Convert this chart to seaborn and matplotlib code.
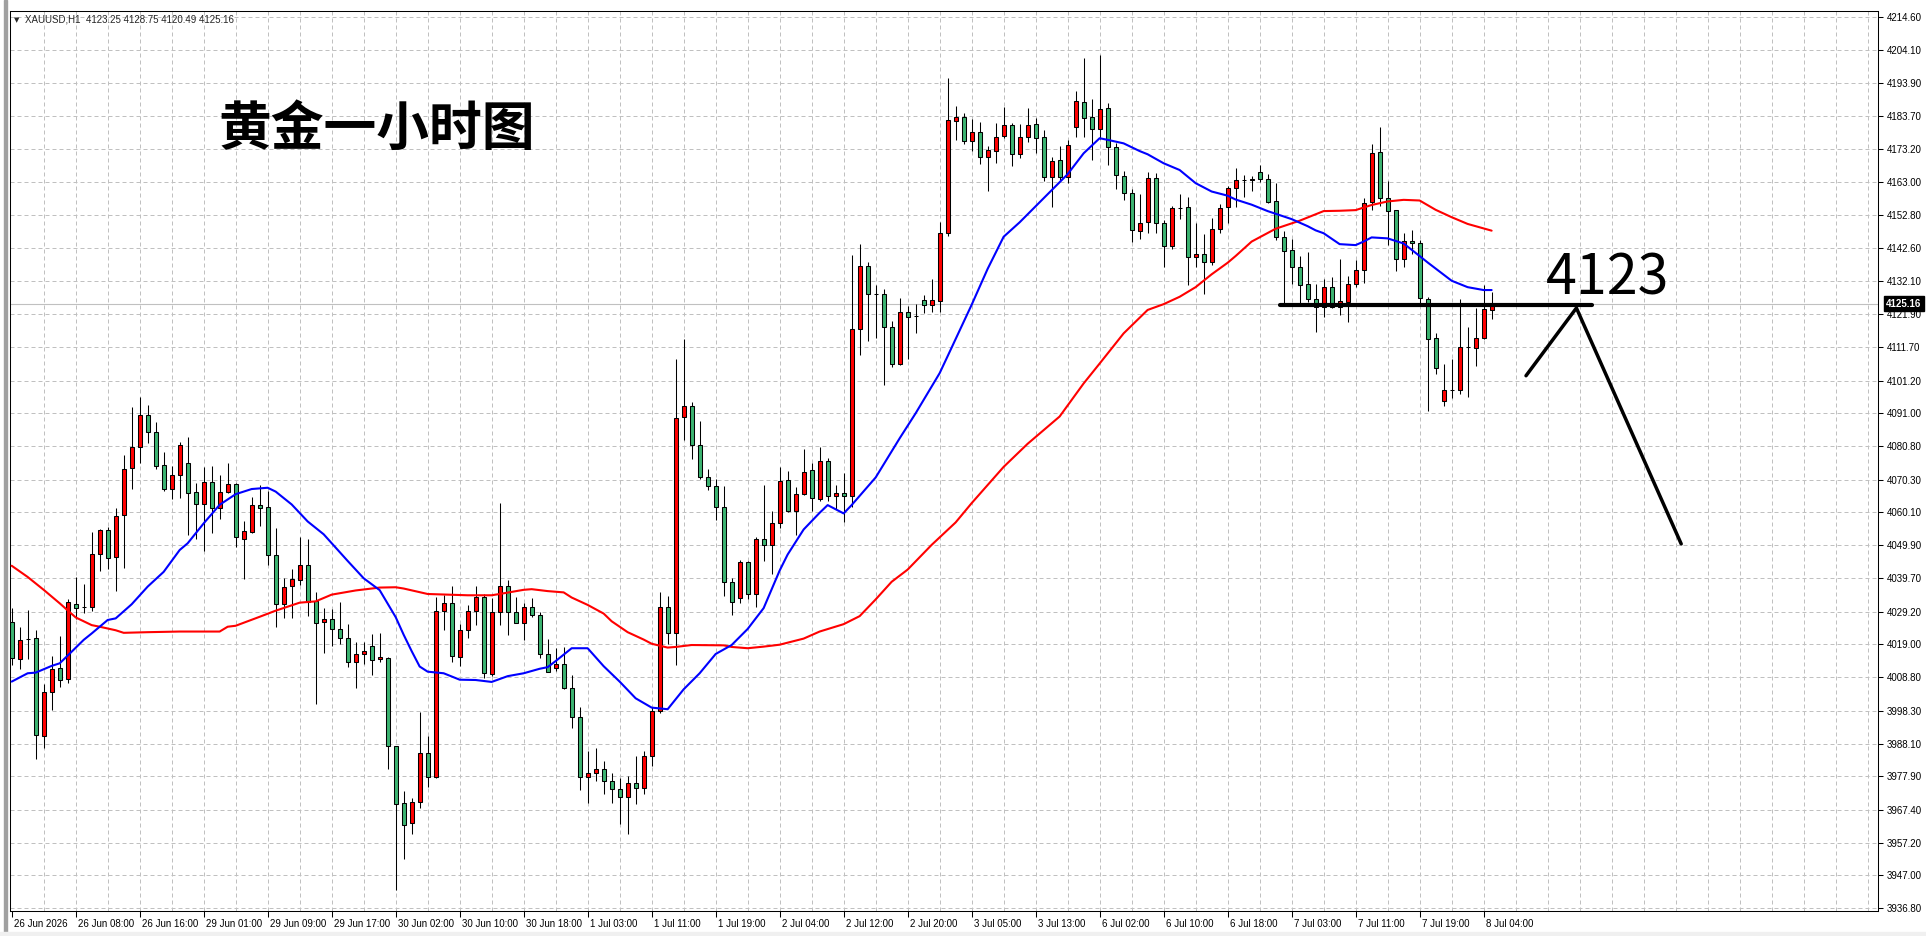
import numpy as np
import matplotlib
matplotlib.use("Agg")
import matplotlib.pyplot as plt
import matplotlib.transforms as mtransforms
from matplotlib.patches import Rectangle
import seaborn as sns

# ---------------- data ----------------
time_labels = ["26 Jun 2026", "26 Jun 08:00", "26 Jun 16:00", "29 Jun 01:00", "29 Jun 09:00",
               "29 Jun 17:00", "30 Jun 02:00", "30 Jun 10:00", "30 Jun 18:00", "1 Jul 03:00",
               "1 Jul 11:00", "1 Jul 19:00", "2 Jul 04:00", "2 Jul 12:00", "2 Jul 20:00",
               "3 Jul 05:00", "3 Jul 13:00", "6 Jul 02:00", "6 Jul 10:00", "6 Jul 18:00",
               "7 Jul 03:00", "7 Jul 11:00", "7 Jul 19:00", "8 Jul 04:00"]
time_label_idx = list(range(0, 185, 8))

open_ = [
    4026.1, 4014.3, 4020.8, 4020.9, 3990.3, 4004.3, 4011.5, 4008.1, 4031.5, 4030.7,
    4030.8, 4047.2, 4054.5, 4046.1, 4059.2, 4073.9, 4080.4, 4090.4, 4085.1, 4074.8,
    4067.3, 4071.7, 4075.4, 4066.4, 4062.6, 4069.5, 4061.4, 4066.4, 4068.9, 4051.9,
    4054.1, 4062.3, 4061.7, 4046.7, 4031.5, 4037.1, 4039.0, 4043.6, 4032.4, 4025.9,
    4026.8, 4023.7, 4020.9, 4013.4, 4015.9, 4018.4, 4014.3, 4014.7, 3987.2, 3969.6,
    3963.2, 3969.8, 3985.2, 3977.7, 4029.4, 4032.0, 4015.1, 4023.6, 4029.4, 4033.8,
    4009.8, 4029.2, 4037.3, 4029.2, 4025.8, 4030.7, 4028.2, 4016.1, 4011.7, 4013.0,
    4005.5, 3996.5, 3977.7, 3979.0, 3980.2, 3976.4, 3973.9, 3971.4, 3975.9, 3974.3,
    3984.2, 3998.3, 4030.5, 4022.7, 4089.8, 4093.2, 4081.0, 4071.1, 4068.2, 4061.9,
    4038.4, 4033.6, 4044.8, 4034.7, 4051.7, 4050.1, 4056.9, 4070.1, 4060.7, 4066.0,
    4073.2, 4064.2, 4076.0, 4065.1, 4066.3, 4065.1, 4117.2, 4136.8, 4128.3, 4128.3,
    4118.0, 4106.5, 4122.5, 4121.4, 4126.2, 4124.6, 4125.9, 4147.1, 4182.0, 4183.2,
    4175.7, 4178.5, 4171.0, 4172.6, 4177.3, 4180.7, 4171.7, 4177.0, 4181.0, 4177.0,
    4164.5, 4169.8, 4164.5, 4180.1, 4187.9, 4183.2, 4179.5, 4186.0, 4173.9, 4164.8,
    4159.5, 4147.7, 4150.5, 4164.2, 4150.2, 4143.0, 4155.1, 4155.2, 4139.6, 4140.5,
    4138.0, 4148.3, 4155.2, 4161.1, 4163.6, 4163.7, 4166.1, 4163.9, 4157.0, 4145.9,
    4141.8, 4136.5, 4131.2, 4126.5, 4124.0, 4130.2, 4124.0, 4125.8, 4131.2, 4135.8,
    4156.7, 4172.3, 4158.2, 4154.2, 4139.0, 4144.8, 4144.2, 4126.7, 4114.4, 4094.7,
    4098.2, 4098.4, 4111.6, 4111.2, 4114.4, 4123.25]

high = [
    4030.2, 4024.3, 4029.7, 4023.5, 4006.7, 4015.4, 4021.6, 4033.0, 4039.9, 4037.8,
    4053.9, 4054.9, 4055.7, 4061.5, 4078.0, 4093.1, 4096.0, 4093.6, 4088.2, 4078.8,
    4074.6, 4082.2, 4083.5, 4069.2, 4074.2, 4074.5, 4071.8, 4075.5, 4069.2, 4057.4,
    4064.8, 4068.6, 4066.8, 4055.3, 4039.6, 4042.5, 4052.5, 4051.8, 4035.2, 4030.2,
    4029.9, 4032.1, 4025.2, 4019.6, 4019.6, 4022.1, 4022.4, 4015.0, 3987.3, 3973.3,
    3971.1, 3997.9, 3990.6, 4033.8, 4034.5, 4037.3, 4025.5, 4031.2, 4037.3, 4034.7,
    4033.6, 4063.2, 4039.2, 4033.8, 4032.0, 4033.6, 4029.2, 4020.8, 4017.8, 4018.2,
    4009.5, 3999.6, 3985.9, 3986.8, 3982.8, 3978.8, 3977.3, 3978.1, 3984.3, 3985.7,
    3999.6, 4035.2, 4034.1, 4108.0, 4114.0, 4094.4, 4088.5, 4073.5, 4070.6, 4068.2,
    4039.8, 4045.3, 4045.1, 4052.4, 4068.6, 4060.7, 4074.2, 4073.0, 4067.9, 4079.9,
    4075.5, 4080.5, 4077.1, 4068.6, 4072.3, 4140.3, 4143.7, 4138.1, 4131.0, 4129.8,
    4119.7, 4126.9, 4124.4, 4125.1, 4127.8, 4132.7, 4150.7, 4195.4, 4186.6, 4184.6,
    4182.7, 4181.8, 4174.3, 4181.3, 4186.3, 4181.3, 4181.1, 4186.0, 4182.9, 4179.3,
    4171.0, 4174.2, 4176.2, 4191.3, 4201.6, 4188.8, 4202.7, 4187.7, 4175.2, 4166.5,
    4160.8, 4159.3, 4166.1, 4165.8, 4151.1, 4155.5, 4159.2, 4158.4, 4150.2, 4146.8,
    4151.7, 4156.1, 4161.7, 4167.4, 4165.1, 4164.9, 4168.3, 4165.6, 4162.6, 4147.7,
    4145.2, 4140.0, 4141.2, 4131.3, 4132.8, 4133.4, 4139.0, 4133.8, 4138.7, 4158.0,
    4174.9, 4180.1, 4163.4, 4154.3, 4147.3, 4148.1, 4145.0, 4127.3, 4115.9, 4106.4,
    4108.0, 4126.5, 4117.8, 4123.7, 4130.9, 4128.75]

low = [
    4012.6, 4011.4, 4014.3, 3983.2, 3986.6, 3998.6, 4005.6, 4006.9, 4026.8, 4028.7,
    4029.5, 4042.0, 4042.5, 4035.7, 4042.9, 4067.5, 4075.4, 4081.8, 4073.5, 4066.9,
    4064.4, 4064.5, 4053.1, 4051.7, 4048.2, 4053.8, 4058.2, 4066.1, 4049.4, 4039.3,
    4053.6, 4056.0, 4043.6, 4024.5, 4027.3, 4027.3, 4037.6, 4027.9, 4000.3, 4016.4,
    4018.6, 4019.2, 4011.8, 4005.3, 4012.8, 4009.6, 4013.4, 3980.1, 3942.5, 3952.2,
    3959.9, 3968.1, 3974.6, 3977.5, 4023.6, 4013.6, 4012.2, 4021.1, 4025.0, 4008.6,
    4009.1, 4025.0, 4021.8, 4025.8, 4020.5, 4027.6, 4014.7, 4010.3, 4010.8, 4005.2,
    3992.9, 3973.5, 3969.7, 3976.4, 3972.4, 3969.5, 3962.9, 3959.8, 3969.2, 3972.5,
    3981.0, 3997.6, 4019.0, 4012.6, 4082.8, 4076.7, 4070.4, 4067.1, 4057.8, 4034.1,
    4028.3, 4032.0, 4033.2, 4030.5, 4045.0, 4040.9, 4055.4, 4060.3, 4053.1, 4065.6,
    4060.5, 4063.6, 4063.6, 4061.2, 4057.2, 4061.7, 4109.3, 4113.6, 4114.4, 4099.9,
    4105.5, 4105.9, 4107.9, 4116.1, 4122.1, 4122.6, 4122.6, 4146.3, 4176.2, 4175.0,
    4172.7, 4168.8, 4160.4, 4169.1, 4176.7, 4168.2, 4170.4, 4175.4, 4172.0, 4163.5,
    4155.2, 4163.7, 4162.7, 4177.2, 4177.0, 4169.9, 4176.4, 4168.3, 4160.8, 4157.3,
    4144.5, 4145.4, 4147.1, 4147.1, 4136.5, 4142.1, 4151.4, 4131.1, 4136.7, 4128.3,
    4137.3, 4147.1, 4150.2, 4155.2, 4158.5, 4160.4, 4163.1, 4156.6, 4145.1, 4125.1,
    4131.2, 4125.3, 4125.8, 4116.4, 4121.1, 4123.7, 4121.6, 4119.5, 4130.2, 4131.7,
    4154.3, 4155.6, 4143.5, 4135.4, 4136.7, 4140.6, 4125.1, 4091.8, 4103.2, 4093.4,
    4095.7, 4096.9, 4096.2, 4105.8, 4114.0, 4120.49]

close = [
    4014.7, 4020.3, 4020.8, 3990.7, 4004.1, 4011.2, 4007.8, 4032.1, 4030.4, 4030.7,
    4047.1, 4054.5, 4045.8, 4058.9, 4073.5, 4080.4, 4090.4, 4085.1, 4074.5, 4067.3,
    4071.7, 4081.0, 4066.3, 4062.6, 4069.5, 4061.4, 4066.4, 4068.9, 4052.4, 4054.2,
    4062.3, 4061.4, 4046.7, 4031.5, 4036.8, 4039.3, 4043.6, 4032.1, 4025.6, 4026.8,
    4023.7, 4020.9, 4013.4, 4015.9, 4016.8, 4014.0, 4015.0, 3987.2, 3969.4, 3962.8,
    3969.8, 3985.2, 3977.7, 4029.4, 4032.0, 4015.5, 4023.6, 4029.4, 4033.8, 4010.0,
    4029.2, 4037.3, 4029.2, 4025.8, 4030.7, 4028.2, 4016.1, 4010.3, 4013.0, 4005.5,
    3996.5, 3977.7, 3979.0, 3980.2, 3976.4, 3973.9, 3971.6, 3975.9, 3974.3, 3984.2,
    3998.3, 4030.5, 4022.7, 4089.5, 4093.2, 4081.0, 4071.1, 4068.2, 4061.9, 4038.4,
    4032.2, 4044.8, 4034.7, 4051.7, 4050.1, 4056.9, 4069.8, 4060.6, 4066.0, 4072.8,
    4064.5, 4076.0, 4065.1, 4066.1, 4065.3, 4117.2, 4136.8, 4128.3, 4128.3, 4118.0,
    4106.5, 4122.5, 4121.1, 4121.4, 4124.6, 4126.2, 4147.1, 4182.3, 4183.2, 4175.7,
    4178.5, 4171.0, 4173.0, 4177.0, 4180.7, 4171.7, 4177.0, 4180.7, 4176.7, 4164.5,
    4169.5, 4164.5, 4174.5, 4188.2, 4182.9, 4179.7, 4185.7, 4173.9, 4165.1, 4159.5,
    4148.0, 4150.2, 4164.2, 4150.2, 4143.0, 4154.9, 4155.1, 4139.6, 4140.5, 4138.0,
    4148.3, 4154.9, 4161.1, 4163.6, 4163.6, 4164.1, 4164.1, 4156.9, 4145.8, 4141.7,
    4136.5, 4130.9, 4126.5, 4124.0, 4130.2, 4124.0, 4125.9, 4131.2, 4135.5, 4156.6,
    4172.0, 4158.2, 4153.9, 4139.0, 4144.8, 4144.2, 4126.8, 4114.0, 4105.0, 4098.2,
    4098.2, 4111.6, 4111.6, 4114.4, 4123.4, 4125.16]

ma_fast_idx = [0, 2, 3, 5, 6, 7, 9, 10, 12, 13, 15, 17, 19, 21, 22, 24, 26, 28, 30, 32,
               33, 35, 37, 39, 42, 44, 46, 48, 49, 50, 51, 52, 54, 56, 58, 60, 62, 64, 66, 67,
               68, 70, 72, 74, 76, 78, 80, 82, 84, 86, 88, 90, 92, 94, 96, 97, 99, 101, 102, 104,
               105, 108, 111, 113, 116, 117, 120, 122, 124, 126, 129, 132, 134, 136, 137, 139,
               141, 142, 144, 146, 148, 150, 152, 153, 155, 157, 160, 162, 163, 164, 166, 168,
               169, 170, 172, 174, 176, 177, 180, 182, 184, 185]
ma_fast_val = [4007.4, 4010.0, 4010.2, 4012.3, 4013.1, 4015.5, 4020.4, 4022.4, 4026.6, 4027.1,
               4031.5, 4037.0, 4041.6, 4048.4, 4050.5, 4056.7, 4062.5, 4065.8, 4067.4, 4067.8,
               4066.6, 4062.6, 4057.3, 4053.3, 4045.0, 4039.6, 4035.9, 4027.5, 4022.0, 4016.9,
               4012.1, 4010.5, 4010.0, 4008.0, 4007.9, 4007.3, 4009.1, 4010.0, 4011.4, 4011.9,
               4013.8, 4017.8, 4017.8, 4012.2, 4007.4, 4002.2, 3999.3, 3998.8, 4005.0, 4010.0,
               4016.0, 4018.8, 4023.8, 4030.3, 4042.0, 4047.0, 4054.8, 4060.0, 4062.4, 4059.8,
               4062.4, 4071.0, 4083.2, 4091.0, 4103.5, 4108.8, 4124.8, 4136.0, 4146.0, 4150.5,
               4158.0, 4165.5, 4172.0, 4176.7, 4176.2, 4175.1, 4172.7, 4171.7, 4168.9, 4166.8,
               4162.7, 4160.1, 4158.8, 4157.6, 4156.0, 4154.0, 4151.5, 4149.3, 4148.0, 4147.1,
               4143.7, 4143.4, 4144.5, 4145.8, 4145.5, 4143.9, 4140.0, 4138.0, 4132.3, 4130.3,
               4129.4, 4129.4]

ma_slow_idx = [0, 2, 4, 6, 8, 10, 11, 13, 14, 17, 21, 26, 27, 28, 31, 33, 36, 38, 40, 43,
               46, 48, 49, 52, 57, 60, 61, 64, 65, 67, 69, 70, 72, 74, 75, 77, 79, 80, 82, 83,
               85, 89, 90, 92, 94, 96, 99, 101, 104, 106, 108, 110, 112, 115, 118, 120, 124, 127,
               131, 134, 136, 139, 142, 144, 146, 148, 150, 152, 153, 155, 158, 161, 164, 166,
               168, 170, 172, 174, 176, 178, 180, 182, 185]
ma_slow_val = [4043.5, 4040.0, 4036.0, 4031.8, 4027.4, 4025.0, 4024.5, 4023.4, 4022.6, 4022.8,
               4023.0, 4023.0, 4024.5, 4024.8, 4027.6, 4029.5, 4032.0, 4032.4, 4034.5, 4035.8,
               4036.7, 4036.8, 4036.4, 4034.7, 4034.3, 4034.3, 4034.7, 4036.0, 4036.2, 4035.6,
               4035.2, 4033.6, 4031.3, 4028.6, 4026.2, 4022.8, 4020.5, 4019.2, 4018.0, 4018.2,
               4018.8, 4018.7, 4018.2, 4017.8, 4018.3, 4018.9, 4020.8, 4023.0, 4025.3, 4027.8,
               4033.0, 4038.5, 4042.3, 4050.0, 4057.0, 4063.0, 4074.3, 4081.5, 4090.0, 4100.3,
               4106.5, 4115.9, 4123.2, 4125.0, 4127.3, 4130.3, 4134.3, 4137.9, 4140.0, 4144.5,
               4148.5, 4151.0, 4154.0, 4154.1, 4154.3, 4155.9, 4157.0, 4157.5, 4157.3, 4154.4,
               4152.1, 4150.0, 4147.9]

price_ticks = [4214.60, 4204.10, 4193.90, 4183.70, 4173.20, 4163.00, 4152.80, 4142.60,
               4132.10, 4121.90, 4111.70, 4101.20, 4091.00, 4080.80, 4070.30, 4060.10,
               4049.90, 4039.70, 4029.20, 4019.00, 4008.80, 3998.30, 3988.10, 3977.90,
               3967.40, 3957.20, 3947.00, 3936.80]
last_price = 4125.16
header_text = "XAUUSD,H1  4123.25 4128.75 4120.49 4125.16"
title_text = "黄金一小时图"
level_text = "4123"
level_price = 4124.6
level_span = [158.6, 197.6]
zigzag_x = [189.3, 195.6, 208.7]
zigzag_y = [4102.7, 4123.8, 4050.3]

# ---------------- figure ----------------
sns.set_style("white")
plt.rcParams['font.family'] = ['Liberation Sans', 'DejaVu Sans']

W, H = 1926, 936
fig = plt.figure(figsize=(W / 100, H / 100), dpi=100)
fig.patch.set_facecolor('white')
ax = fig.add_axes([10 / W, (H - 911) / H, 1868 / W, 900 / H])
ax.set_facecolor('white')
ax.set_xlim(-0.21, 233.3)
ax.set_ylim(3935.93, 4216.34)

grid_kw = dict(color='#c0c0c0', lw=0.72, ls=(0, (4, 3)), zorder=0)
for p in price_ticks:
    ax.axhline(p, **grid_kw)
for k in range(4, 234, 4):
    ax.axvline(k, **grid_kw)

ax.axhline(last_price, color='#c0c0c0', lw=0.8, zorder=1)

n = len(close)
xs = np.arange(n)
o = np.asarray(open_)
c = np.asarray(close)
body_col = np.where(c > o, '#ff0000', '#3cb371')
ax.vlines(xs, low, high, color='black', lw=0.75, zorder=2)
ax.bar(xs, c - o, bottom=o, width=0.5, color=body_col, edgecolor='black',
       linewidth=0.75, zorder=3)

sns.lineplot(x=ma_slow_idx, y=ma_slow_val, ax=ax, color='#ff0000', linewidth=1.5,
             zorder=4, legend=False)
sns.lineplot(x=ma_fast_idx, y=ma_fast_val, ax=ax, color='#0000ff', linewidth=1.5,
             zorder=4, legend=False)
ax.set_xlabel('')
ax.set_ylabel('')

# hand-drawn annotations
ax.plot(level_span, [level_price, level_price], color='black', lw=3,
        solid_capstyle='round', zorder=6)
ax.plot(zigzag_x, zigzag_y, color='black', lw=2.5, solid_capstyle='round',
        solid_joinstyle='miter', zorder=6)
ax.text(191.8, 4127.9, level_text, fontsize=40, family=['Noto Sans CJK SC'],
        ha='left', va='baseline', color='black', zorder=7)
ax.text(25.8, 4179.6, title_text, fontsize=38, family=['Noto Sans CJK SC'],
        fontweight='bold', ha='left', va='center', color='black', zorder=7)

# axes
ax.set_xlim(-0.21, 233.3)
ax.set_ylim(3935.93, 4216.34)
ax.yaxis.tick_right()
ax.set_yticks(price_ticks)
ax.set_yticklabels([f"{p:.2f}" for p in price_ticks])
ax.tick_params(axis='y', direction='out', length=3.5, width=0.75, pad=2.5,
               labelsize=7, colors='black', right=True, left=False)
ax.set_xticks(time_label_idx)
ax.set_xticklabels(time_labels)
ax.tick_params(axis='x', direction='out', length=4, width=0.75, pad=1.5,
               labelsize=7, colors='black', bottom=True)
offset = mtransforms.ScaledTranslation(2 / 100, 0, fig.dpi_scale_trans)
for lbl in ax.get_xticklabels():
    lbl.set_horizontalalignment('left')
    lbl.set_transform(lbl.get_transform() + offset)
for s in ax.spines.values():
    s.set_color('black')
    s.set_linewidth(0.75)

ax.annotate(f"{last_price:.2f}", xy=(1, last_price), xycoords=('axes fraction', 'data'),
            xytext=(6, 0), textcoords='offset points', ha='left', va='center',
            fontsize=7, color='white', fontweight='bold',
            bbox=dict(boxstyle='square,pad=0.25', fc='black', ec='black'),
            annotation_clip=False, zorder=10)

# header
fig.text(14 / W, 1 - 20 / H, '▼', fontsize=5, family=['DejaVu Sans'], va='center', ha='left')
fig.text(25 / W, 1 - 20 / H, header_text, fontsize=7, va='center', ha='left')

# window borders
fig.patches.append(Rectangle((4 / W, 0), 3 / W, 1, transform=fig.transFigure,
                             color='#a0a0a0', zorder=-1))
fig.patches.append(Rectangle((0, 0), 1, 4 / H, transform=fig.transFigure,
                             color='#f0f0f0', zorder=-1))

fig.savefig('out.png', dpi=100, facecolor='white')
